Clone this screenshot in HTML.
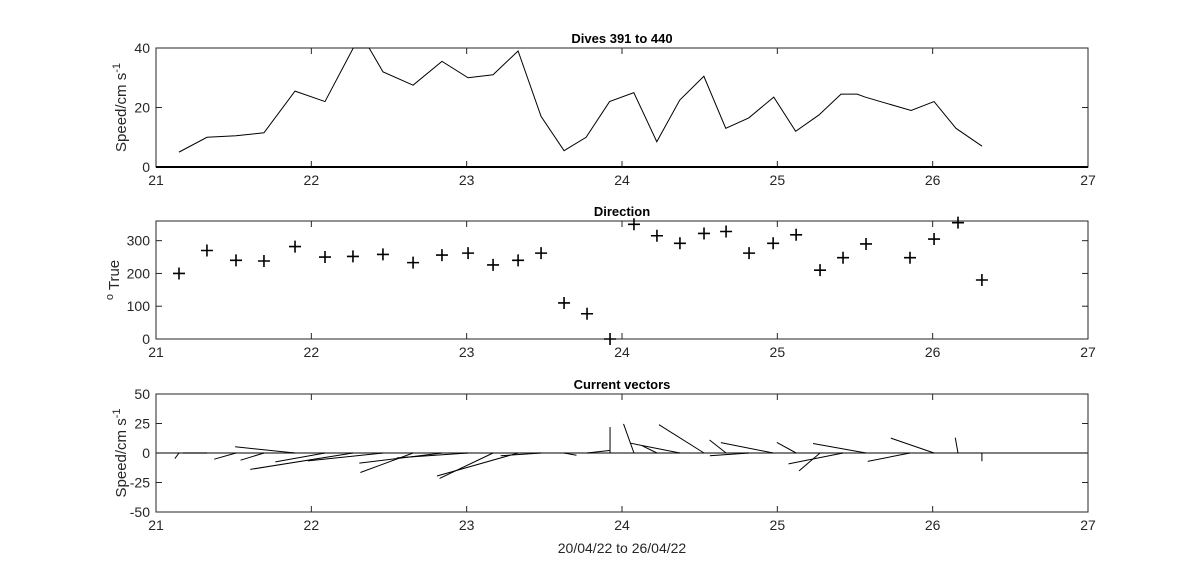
<!DOCTYPE html>
<html><head><meta charset="utf-8"><style>
html,body{margin:0;padding:0;background:#fff;}
svg{display:block;font-family:"Liberation Sans",Arial,sans-serif;}
</style></head><body>
<svg id="fig" width="1200" height="575" viewBox="0 0 1200 575" xmlns="http://www.w3.org/2000/svg"></svg>
<script>
// ---- data ----
const speedDays = [21.148,21.328,21.515,21.695,21.895,22.088,22.27,22.372,22.461,22.655,22.841,23.009,23.17,23.331,23.479,23.627,23.769,23.92,24.076,24.224,24.372,24.527,24.668,24.816,24.977,25.118,25.268,25.41,25.514,25.565,25.861,26.009,26.15,26.318];
const speedVals = [5,10,10.5,11.5,25.5,22,40,40,32,27.5,35.5,30,31,39,17,5.5,10,22,25,8.5,22.5,30.5,13,16.5,23.5,12,17.5,24.5,24.5,23.5,19,22,13,7];
const dirDays = [21.148,21.328,21.515,21.695,21.895,22.088,22.268,22.461,22.655,22.841,23.009,23.17,23.331,23.479,23.627,23.775,23.923,24.077,24.225,24.373,24.528,24.67,24.818,24.973,25.121,25.275,25.423,25.571,25.854,26.009,26.163,26.317];
const dirVals = [200,270,240,238,282,250,252,258,233,256,262,226,240,262,110,77,0,350,315,292,322,328,262,292,318,210,248,290,248,305,355,180];
const vecSpeeds = [5,10,10.5,11.5,25.5,22,45,32,27.5,35.5,30,31,39,17,5.5,10,22,25,8.5,22.5,30.5,13,16.5,23.5,12,17.5,24.5,23.5,19,22,13,7];
const xTicks = [21,22,23,24,25,26,27];
const yTicks1 = [0,20,40];
const yTicks2 = [0,100,200,300];
const yTicks3 = [-50,-25,0,25,50];

const NS="http://www.w3.org/2000/svg";
const svg=document.getElementById('fig');
function mk(tag,attrs,parent){const e=document.createElementNS(NS,tag);for(const k in attrs)e.setAttribute(k,attrs[k]);(parent||svg).appendChild(e);return e;}
const X0=156,X1=1088;
function sx(d){return X0+(d-21)/6*(X1-X0);}

function axes(name,top,bot,ymin,ymax,yt,title,ylabelFn){
  const g=mk('g',{});
  
  
  const sy=v=>bot-(v-ymin)/(ymax-ymin)*(bot-top);
  const box=mk('rect',{x:X0,y:top,width:X1-X0,height:bot-top,fill:'#fff',stroke:'#262626','stroke-width':1},g);
  
  
  xTicks.forEach(t=>{
    const x=sx(t);
    mk('line',{x1:x,x2:x,y1:bot,y2:bot-6,stroke:'#262626'},g);
    mk('line',{x1:x,x2:x,y1:top,y2:top+6,stroke:'#262626'},g);
    const tl=mk('text',{x:x,y:bot+18,'text-anchor':'middle','font-size':14,fill:'#262626'},g);
    tl.textContent=t;
    
    
  });
  yt.forEach(v=>{
    const y=sy(v);
    mk('line',{x1:X0,x2:X0+6,y1:y,y2:y,stroke:'#262626'},g);
    mk('line',{x1:X1,x2:X1-6,y1:y,y2:y,stroke:'#262626'},g);
    const tl=mk('text',{x:X0-6,y:y+5,'text-anchor':'end','font-size':14,fill:'#262626'},g);
    tl.textContent=v;
    
    
  });
  const tt=mk('text',{x:622,y:top-5,'text-anchor':'middle','font-size':13,'font-weight':'bold',fill:'#000'},g);
  tt.textContent=title;
  
  
  ylabelFn(g,(top+bot)/2);
  return {g,sy};
}
function speedLabel(g,cy){
  const t=mk('text',{transform:`translate(126,${cy}) rotate(-90)`,'text-anchor':'middle','font-size':15,fill:'#262626'},g);
  t.innerHTML='Speed/cm s<tspan dy="-6" font-size="11">-1</tspan>';
  
  
}

// Panel 1: speed
const a1=axes('speed-panel',48,167,0,40,yTicks1,'Dives 391 to 440',speedLabel);
mk('line',{x1:X0,x2:X1,y1:167,y2:167,stroke:'#000','stroke-width':2},a1.g);
const pts=speedDays.map((d,i)=>sx(d)+','+a1.sy(Math.min(speedVals[i],40))).join(' ');
const pl=mk('polyline',{points:pts,fill:'none',stroke:'#000','stroke-width':1},a1.g);



// Panel 2: direction
const a2=axes('direction-panel',221,339,0,360,yTicks2,'Direction',(g,cy)=>{
  const t=mk('text',{transform:`translate(119,${cy}) rotate(-90)`,'text-anchor':'middle','font-size':15,fill:'#262626'},g);
  t.innerHTML='<tspan dy="-6" font-size="11">o</tspan><tspan dy="6"> True</tspan>';
  
  
});
dirDays.forEach((d,i)=>{
  const x=sx(d),y=a2.sy(dirVals[i]);
  const p=mk('path',{d:`M${x-6},${y}H${x+6}M${x},${y-6}V${y+6}`,stroke:'#000','stroke-width':1.6,fill:'none'},a2.g);
  
  
});

// Panel 3: current vectors
const a3=axes('vector-panel',394,512,-50,50,yTicks3,'Current vectors',speedLabel);
mk('line',{x1:X0,x2:X1,y1:a3.sy(0),y2:a3.sy(0),stroke:'#333','stroke-width':1.2},a3.g);
const pxPerUnit=2.4;
dirDays.forEach((d,i)=>{
  const r=dirVals[i]*Math.PI/180, s=vecSpeeds[i];
  const u=s*Math.sin(r), v=s*Math.cos(r);
  const x=sx(d);
  const l=mk('line',{x1:x,y1:a3.sy(0),x2:x+u*pxPerUnit,y2:a3.sy(v),stroke:'#000','stroke-width':1},a3.g);
  
  
});
const xl=mk('text',{x:622,y:553,'text-anchor':'middle','font-size':14,fill:'#262626'});
xl.textContent='20/04/22 to 26/04/22';


</script>
</body></html>
